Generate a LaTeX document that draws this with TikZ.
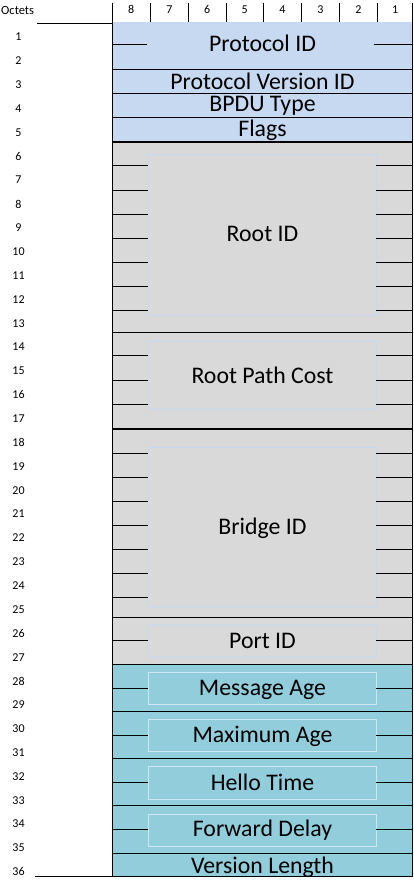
\documentclass[tikz,border=0pt]{standalone}
\usepackage{fontspec}
\setmainfont{Carlito}
\definecolor{hdrblue}{HTML}{C6D9F1}
\definecolor{idgray}{HTML}{D9D9D9}
\definecolor{timeteal}{HTML}{92CDDC}
\definecolor{gboxline}{HTML}{C6D9F1}
\definecolor{tboxline}{HTML}{CDE8F0}
\begin{document}
\begin{tikzpicture}[x=1pt,y=-1pt,
  rule/.style={draw=black,line width=1pt},
  thickrule/.style={draw=black,line width=2pt},
  gbox/.style={draw=gboxline,line width=0.7pt},
  tbox/.style={draw=tboxline,line width=0.9pt},
  fieldlabel/.style={inner sep=0pt,anchor=base,font=\fontsize{23.8}{28}\selectfont},
  octlabel/.style={inner sep=0pt,anchor=center,font=\fontsize{12}{14}\selectfont},
  collabel/.style={inner sep=0pt,anchor=base,font=\fontsize{12}{14}\selectfont}]
\useasboundingbox (0,0) rectangle (414,882);
% backgrounds
\fill[hdrblue] (112,22) rectangle (413,141.7);
\fill[idgray] (112,141.7) rectangle (413,664.3);
\fill[timeteal] (112,664.3) rectangle (413,876.7);
% inner boxes
\draw[gbox] (148.3,154.3) rectangle (376,315.7);
\draw[gbox] (148.3,341.7) rectangle (376,409.3);
\draw[gbox] (148.3,447.7) rectangle (376,606);
\draw[gbox] (148.3,625.7) rectangle (376,657.7);
\draw[tbox] (148.3,672.3) rectangle (376,704.3);
\draw[tbox] (148.3,719) rectangle (376,751.7);
\draw[tbox] (148.3,766) rectangle (376,799.3);
\draw[tbox] (148.3,814.3) rectangle (376,846.7);
% full rules
\foreach \yy in {69.3,93.3,117.3,332.3,617.3,664.3,711.3,758.3,805.7,853.7}
  \draw[rule] (112,\yy) -- (413,\yy);
\foreach \yy in {141.7,428.7}
  \draw[thickrule] (112,\yy) -- (413,\yy);
\draw[rule] (35,876.7) -- (413,876.7);
\draw[rule] (37,24) -- (112,24);
% half rules
\draw[rule] (112,44.3) -- (147,44.3);
\draw[rule] (374,44.3) -- (413,44.3);
\foreach \yy in {166,190.3,214.7,238.3,262.7,286.3,310.7,355.7,380.7,404.7,453.3,477.3,501,525.3,549,573.3,597.3,640.3,688.3,735.3,782.3,829.3}{
  \draw[rule] (112,\yy) -- (148.3,\yy);
  \draw[rule] (376,\yy) -- (413,\yy);
}
% verticals
\draw[rule] (112,3) -- (112,876.7);
\draw[rule] (412.7,3) -- (412.7,876.7);
\foreach \xx in {150.3,188.3,226,263.3,301.7,339.3,377.7}
  \draw[rule] (\xx,3) -- (\xx,22);
% header
\node[inner sep=0pt,anchor=base west,font=\fontsize{12.5}{14}\selectfont] (octets) at (1,14.3) {Octets};
\foreach \xx/\n in {131.2/8,169.3/7,207.2/6,244.7/5,282.5/4,320.5/3,358.5/2,395.2/1}
  \node[collabel] (col\n) at (\xx,14) {\n};
% octet numbers
\foreach \k in {1,...,36}
  \node[octlabel] (oct\k) at (18.5,{37+(\k-1)*23.85}) {\k};
% field labels
\node[fieldlabel] (protoid) at (262.5,51.7) {Protocol ID};
\node[fieldlabel] (protover) at (262.5,90) {Protocol Version ID};
\node[fieldlabel] (bpdutype) at (262.5,111.7) {BPDU Type};
\node[fieldlabel] (flags) at (262.5,136.7) {Flags};
\node[fieldlabel] (rootid) at (262.5,241.7) {Root ID};
\node[fieldlabel] (rootcost) at (262.5,383.3) {Root Path Cost};
\node[fieldlabel] (bridgeid) at (262.5,534) {Bridge ID};
\node[fieldlabel] (portid) at (262.5,648.3) {Port ID};
\node[fieldlabel] (msgage) at (262.5,695) {Message Age};
\node[fieldlabel] (maxage) at (262.5,742.7) {Maximum Age};
\node[fieldlabel] (hello) at (262.5,790) {Hello Time};
\node[fieldlabel] (fwddelay) at (262.5,836.7) {Forward Delay};
\node[fieldlabel] (verlen) at (262.5,873.3) {Version Length};
\end{tikzpicture}
\end{document}
